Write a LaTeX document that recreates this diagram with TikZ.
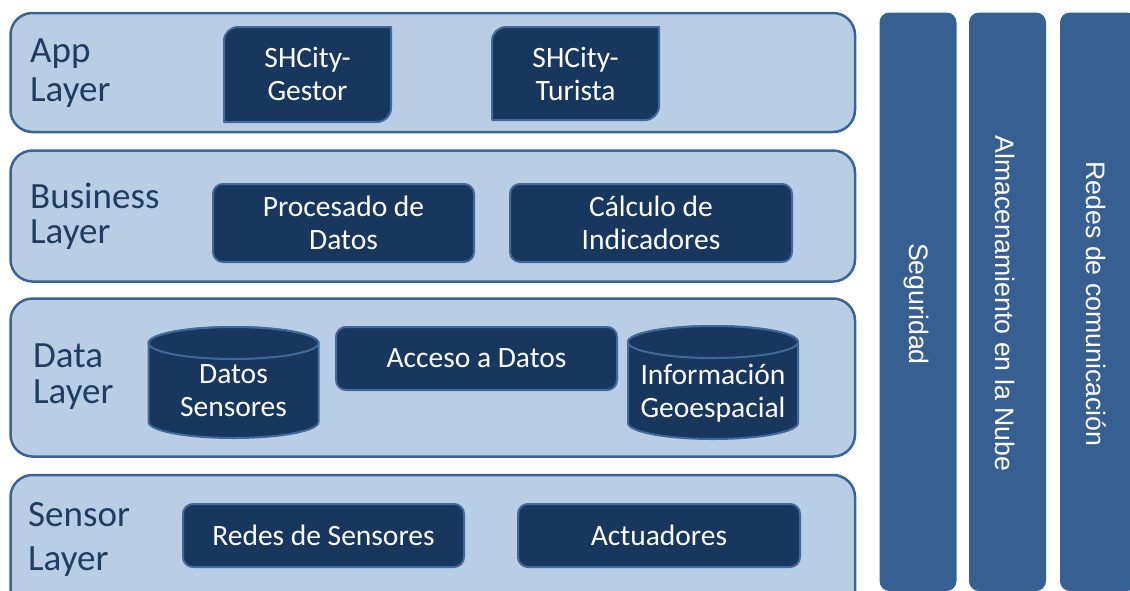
\documentclass[tikz,border=0pt]{standalone}
\usepackage{fontspec}
\setmainfont{Carlito}
\newfontfamily\barfont{Liberation Sans}
\definecolor{layfill}{HTML}{B9CDE5}
\definecolor{laydraw}{HTML}{3C6394}
\definecolor{boxfill}{HTML}{17375E}
\definecolor{boxdraw}{HTML}{41699B}
\definecolor{barfill}{HTML}{376092}
\definecolor{laytext}{HTML}{1F3C61}
\tikzset{
  layerbox/.style={draw=laydraw,fill=layfill,line width=2.5pt,rounded corners=22pt},
  laylabel/.style={anchor=north west,inner sep=0pt,align=left,text=laytext},
  compshape/.style={draw=boxdraw,fill=boxfill,line width=2pt},
  compbox/.style={compshape,rounded corners=10pt,text=white,align=center,
    font=\fontsize{29.5}{33}\selectfont},
  comptext/.style={text=white,align=center,font=\fontsize{29.5}{33}\selectfont},
  vbar/.style={fill=barfill,rounded corners=10pt},
  bartext/.style={text=white,rotate=-90,font=\barfont\fontsize{26.7}{30}\selectfont}
}
% cilindro (base de datos): centro x, y superior, y inferior
\newcommand{\dbcyl}[3]{%
  \draw[compshape] (#1-85,#2+16) -- (#1-85,#3-16)
    arc[start angle=180,end angle=0,x radius=85,y radius=16]
    -- (#1+85,#2+16) arc[start angle=0,end angle=-180,x radius=85,y radius=16] -- cycle;
  \draw[compshape] (#1,#2+16) ellipse[x radius=85,y radius=16];
}
\begin{document}
\begin{tikzpicture}[x=1pt,y=-1pt,line join=round]
  \useasboundingbox (0,0) rectangle (1130,590);
  \clip (0,0) rectangle (1130,590);
  % capas
  \foreach \ytop/\ybot in {13/132,150.5/281.5,298.5/456.5,475/615}
    \draw[layerbox] (10.5,\ytop) rectangle (855,\ybot);
  \node[laylabel,font=\fontsize{37}{39}\selectfont] (applab) at (30,38.5) {App\\Layer};
  \node[laylabel,font=\fontsize{37}{35.5}\selectfont] (buslab) at (30,182.5) {Business\\Layer};
  \node[laylabel,font=\fontsize{37}{36}\selectfont] (datlab) at (33,344) {Data\\Layer};
  \node[laylabel,font=\fontsize{37}{44}\selectfont] (senlab) at (28,502.5) {Sensor\\Layer};
  % App Layer
  \draw[compshape] (224,122) -- (224,41) arc[start angle=180,end angle=270,radius=14]
    -- (391,27) -- (391,108) arc[start angle=0,end angle=90,radius=14] -- cycle;
  \node[comptext] (gestor) at (307.5,74) {SHCity-\\Gestor};
  \draw[compshape] (492,120) -- (492,41) arc[start angle=180,end angle=270,radius=14]
    -- (659,27) -- (659,106) arc[start angle=0,end angle=90,radius=14] -- cycle;
  \node[comptext] (turista) at (575.5,73.5) {SHCity-\\Turista};
  % Business Layer
  \node[compbox,minimum width=261pt,minimum height=78pt] (proc) at (343.5,223) {Procesado de\\Datos};
  \node[compbox,minimum width=282pt,minimum height=78pt] (calc) at (651,223) {Cálculo de\\Indicadores};
  % Data Layer
  \dbcyl{233.5}{327}{438}
  \node[comptext] (dsens) at (233.5,391) {Datos\\Sensores};
  \node[compbox,minimum width=281pt,minimum height=63pt] (acceso) at (476.5,358.5) {Acceso a Datos};
  \dbcyl{713}{326}{439}
  \node[comptext] (geo) at (713,393) {Información\\Geoespacial};
  % Sensor Layer
  \node[compbox,minimum width=281pt,minimum height=63pt] (redsens) at (323.5,535.5) {Redes de Sensores};
  \node[compbox,minimum width=282pt,minimum height=63pt] (actu) at (659,535.5) {Actuadores};
  % barras verticales
  \fill[vbar] (879.5,12.5) rectangle (956.5,591);
  \fill[vbar] (969,12.5) rectangle (1046,591);
  \fill[vbar] (1060,12.5) rectangle (1137,591);
  \node[bartext] (seg) at (916,304) {Seguridad};
  \node[bartext] (nube) at (1005,303.5) {Almacenamiento en la Nube};
  \node[bartext] (redcom) at (1096,304) {Redes de comunicación};
\end{tikzpicture}
\end{document}
